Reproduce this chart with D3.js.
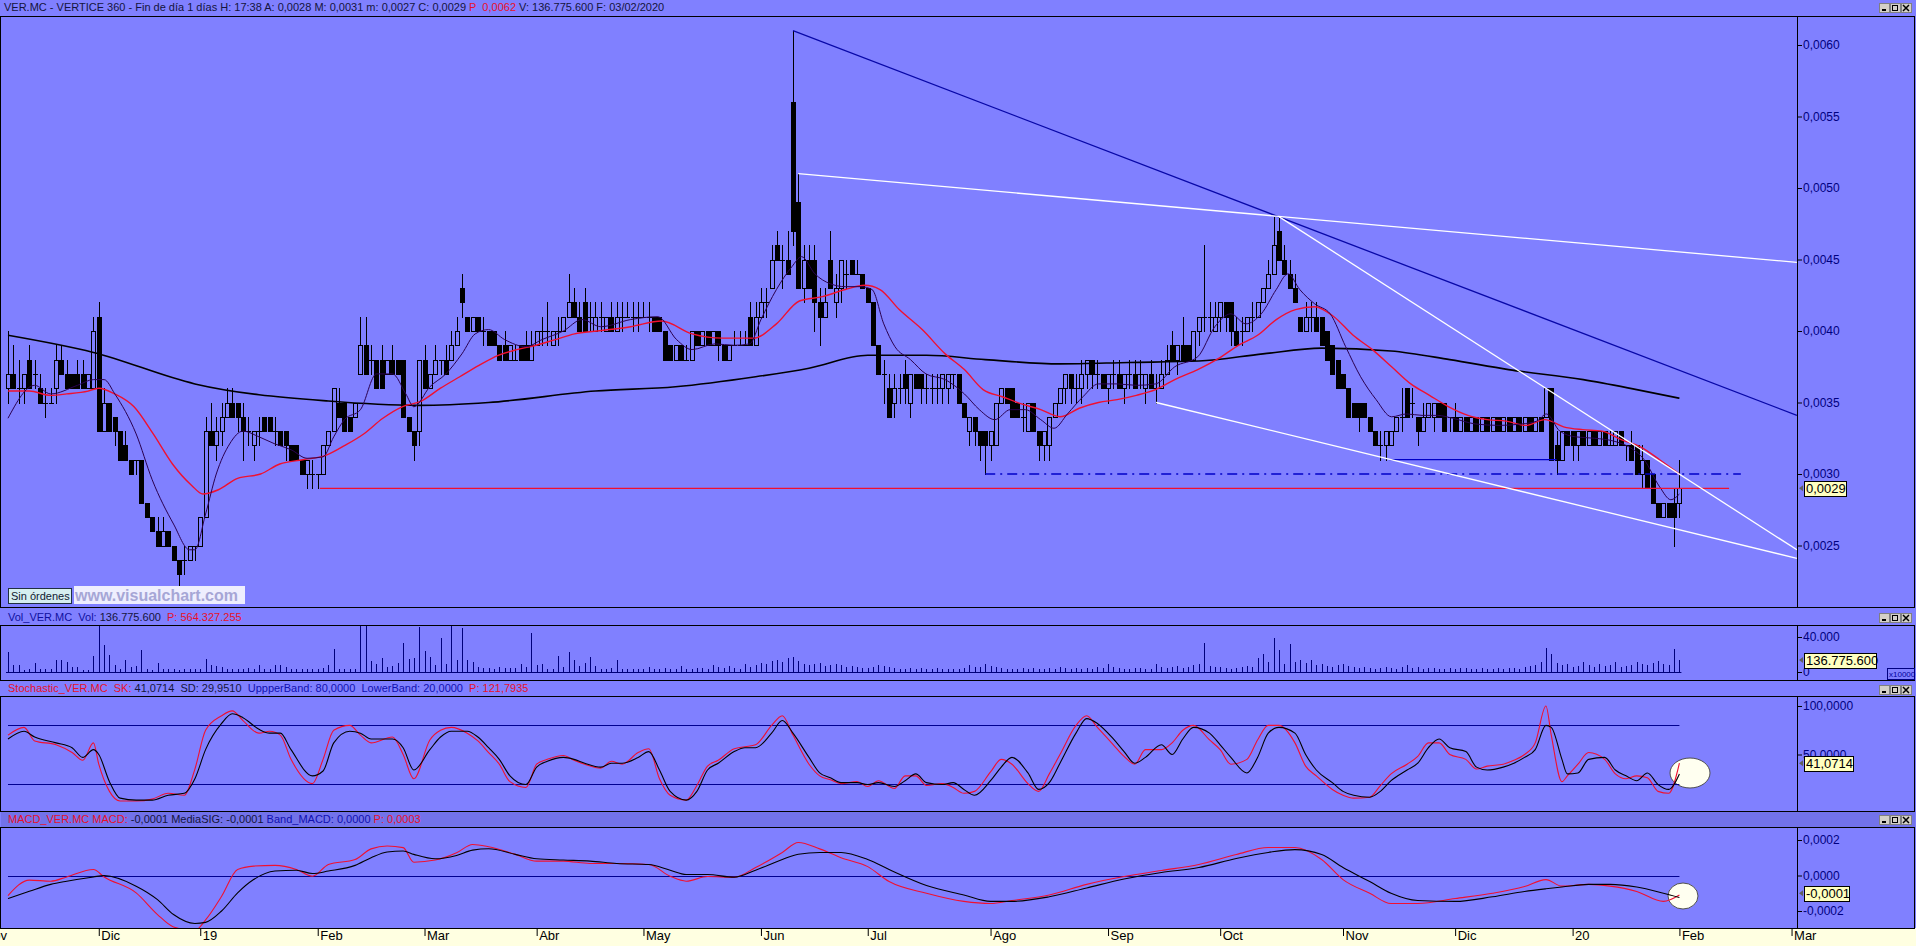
<!DOCTYPE html>
<html><head><meta charset="utf-8">
<script src="https://cdn.jsdelivr.net/npm/d3@7"></script>
<style>
body{margin:0;background:#8080ff;overflow:hidden}
svg{display:block}
text{font-family:"Liberation Sans",Arial,sans-serif;white-space:pre}
</style></head><body>
<svg id="c" width="1916" height="946"></svg>
<script>
// ---------------- DATA (prices in units of 0.0001) ----------------
// candles per month: [open, high, low, close]
const nov18=[[36,40,35,37],[37,39,36,36],[36,38,35,36],[36,37,35,37],[38,39,36,36],[37,38,36,37],[36,37,35,35],[35,36,34,35],[35,36,35,35],[36,39,35,38],[38,39,37,37],[37,38,36,36],[37,37,36,36],[37,38,36,36],[37,38,36,36],[36,37,36,37],[36,41,36,40]];
const dec18=[[41,42,33,33],[33,36,33,35],[35,35,33,33],[34,34,32,33],[33,33,31,31],[32,33,31,31],[31,31,30,30],[31,31,30,31],[31,31,28,28],[28,28,27,27],[27,27,26,26],[26,27,25,25],[25,27,25,26],[26,26,25,25],[25,25,24,24],[24,24,22,23],[24,25,23,24],[24,25,24,25],[25,25,24,25]];
const jan19=[[25,27,25,27],[27,34,27,33],[33,35,32,32],[32,34,31,33],[33,35,32,34],[34,36,34,35],[35,36,34,34],[35,35,33,34],[34,35,31,33],[33,34,32,33],[32,33,31,33],[33,34,32,33],[34,34,33,33],[34,34,33,33],[33,34,32,33],[33,33,32,32],[33,33,31,32],[32,32,31,31],[32,32,31,31],[31,31,30,30],[30,31,29,31],[30,31,29,30]];
const feb19=[[30,30,29,30],[30,32,30,32],[32,33,32,33],[33,36,33,36],[35,36,34,34],[35,35,33,33],[34,34,33,33],[34,35,34,35],[37,41,37,39],[39,41,37,37],[38,39,37,38],[38,38,36,36],[38,39,36,36],[37,38,37,38],[38,39,37,37],[38,38,37,37],[38,38,34,34],[34,34,33,33],[33,33,31,32],[33,38,32,38]];
const mar19=[[38,39,36,36],[36,37,36,37],[37,39,37,38],[38,38,37,38],[38,39,37,37],[38,40,38,39],[39,41,39,40],[43,44,41,42],[41,41,40,40],[40,41,40,41],[41,41,40,40],[40,41,39,40],[40,40,39,39],[40,40,39,39],[39,39,38,38],[39,40,38,38],[38,39,38,39],[38,39,38,38],[39,39,38,38],[39,40,38,38],[38,40,38,39]];
const apr19=[[39,40,39,40],[40,41,39,40],[40,42,39,40],[39,40,39,40],[40,41,39,40],[40,41,40,41],[41,44,41,42],[42,43,41,41],[41,42,40,40],[42,43,40,40],[41,42,40,41],[40,42,40,41],[41,42,40,41],[40,41,40,41],[41,42,40,40],[40,42,40,41],[41,42,40,41],[41,42,41,41],[41,42,40,41],[41,42,40,41]];
const may19=[[41,42,41,41],[41,42,40,41],[41,41,40,40],[41,41,40,40],[40,40,38,38],[39,39,38,38],[38,39,38,39],[39,39,38,38],[38,39,38,38],[38,40,38,40],[40,40,39,39],[39,40,39,40],[40,40,39,39],[39,40,39,40],[40,40,38,39],[39,39,38,38],[38,39,38,39],[39,40,39,39],[39,40,39,39],[39,40,39,39],[41,42,39,39],[39,42,39,41]];
const jun19=[[41,43,41,42],[42,43,41,42],[43,46,43,45],[46,47,45,45],[45,46,43,45],[45,47,44,44],[56,61,46,47],[49,51,43,43],[43,46,42,45],[45,46,43,43],[45,46,40,42],[42,43,39,41],[41,43,41,42],[45,47,43,43],[42,44,41,43],[43,45,42,45],[44,45,43,44],[45,45,44,44],[44,45,44,44],[44,44,43,43]];
const jul19=[[43,43,42,42],[42,42,39,39],[39,39,37,37],[37,38,35,37],[36,37,34,34],[35,37,34,36],[36,37,35,36],[37,38,35,36],[35,37,34,37],[37,37,36,36],[37,37,35,36],[36,37,35,36],[36,37,35,36],[36,37,35,36],[36,37,35,37],[36,37,35,37],[37,37,36,37],[37,37,35,35],[35,35,34,34],[33,34,32,34],[34,34,32,33],[33,33,31,32],[33,33,30,32]];
const aug19=[[32,33,31,33],[32,35,32,35],[35,36,35,36],[36,36,35,35],[36,36,34,34],[35,35,34,34],[34,35,33,34],[33,35,33,35],[35,35,33,33],[33,33,31,32],[32,33,31,33],[32,34,31,34],[34,35,34,35],[35,36,35,36],[36,37,35,37],[37,37,35,36],[36,37,35,36],[36,38,35,37],[37,38,36,38],[38,38,36,37],[37,38,36,37],[37,37,36,36]];
const sep19=[[36,37,35,37],[37,38,36,37],[37,38,36,36],[36,37,35,37],[37,38,36,37],[37,38,36,36],[37,38,36,37],[36,37,35,37],[37,38,36,36],[36,37,35,36],[36,38,36,37],[37,39,37,38],[39,40,38,38],[38,39,37,39],[39,41,38,38],[39,39,38,38],[38,40,38,40],[40,41,39,41],[41,46,40,41],[41,42,40,41],[40,42,40,41]];
const oct19=[[41,42,40,42],[42,42,40,41],[42,42,39,40],[40,41,39,39],[40,41,39,40],[40,41,40,41],[41,42,40,41],[41,42,41,42],[42,43,42,43],[43,45,43,44],[44,48,44,46],[47,48,45,45],[45,46,44,44],[44,45,43,43],[43,44,42,42],[41,41,40,40],[40,42,40,41],[41,42,40,41],[41,42,40,40],[41,41,39,39],[40,40,38,38],[39,39,37,37],[38,38,36,36]];
const nov19=[[37,37,36,36],[36,36,34,34],[35,35,34,34],[35,35,33,34],[35,35,34,34],[34,34,33,33],[33,33,32,32],[32,33,31,32],[32,33,31,33],[32,33,32,33],[33,34,33,34],[34,36,33,34],[36,36,34,34],[35,36,34,35],[34,34,32,33],[33,35,33,34],[34,35,34,35],[34,35,33,35],[35,35,34,34],[35,35,33,33],[34,34,33,34]];
const dec19=[[34,35,33,33],[33,34,33,34],[34,34,33,33],[33,34,33,34],[34,34,33,33],[33,34,33,34],[34,34,33,33],[33,34,33,34],[34,34,33,33],[33,34,33,34],[34,34,33,33],[33,34,33,34],[34,34,33,33],[33,34,33,34],[34,34,33,33],[33,34,33,34],[34,34,33,33],[34,36,34,36],[36,36,31,31],[32,33,30,31],[31,33,31,33],[33,33,32,32]];
const jan20=[[33,33,31,32],[32,33,31,33],[33,33,32,32],[32,33,32,33],[33,33,32,32],[32,33,32,33],[33,33,32,32],[32,33,32,32],[32,33,32,33],[33,33,32,32],[32,32,31,32],[32,33,31,31],[32,32,30,30],[30,32,29,31],[31,31,29,29],[30,30,28,28],[28,28,27,27],[27,28,27,28],[28,28,27,27],[28,29,25,27]];
const feb20=[[28,31,27,29]];

// volume (millions of shares), one per candle
const volumeM=[229,80,80,25,40,103,35,35,35,137,137,114,57,57,25,25,183,
550,309,194,80,35,137,57,65,251,35,25,103,30,35,30,25,40,30,35,
30,149,80,70,57,30,40,35,30,45,35,80,40,30,80,80,57,30,35,30,40,35,
30,45,80,263,30,35,40,30,550,537,126,91,160,57,65,103,331,149,160,514,
240,171,80,389,91,550,137,503,137,114,57,50,45,40,57,45,50,45,91,57,446,
80,91,35,40,183,57,229,137,65,103,171,65,35,40,45,137,40,35,30,35,
40,60,35,40,45,30,40,70,35,40,45,50,35,80,60,45,70,50,40,91,57,80,
103,91,126,137,114,160,171,126,91,80,91,103,70,80,91,80,60,70,57,50,
45,57,80,70,60,45,40,35,45,40,50,35,40,45,35,40,30,35,45,80,60,57,91,
70,57,45,40,35,40,45,35,50,40,35,45,40,57,45,40,50,35,45,40,57,45,
91,57,45,35,40,50,45,35,40,91,57,45,60,70,50,57,80,91,331,70,57,
57,45,40,50,60,70,57,160,206,114,389,251,91,320,114,137,103,137,80,91,70,57,80,
91,70,57,45,57,45,40,50,57,45,40,57,80,45,57,40,50,45,40,35,45,
40,45,50,35,40,45,40,35,45,40,50,45,40,57,70,80,114,274,206,103,80,91,
57,70,114,80,57,91,70,80,114,57,70,80,114,91,80,103,126,91,80,263,137];

// moving averages: [candle index, price]
const shortMA=[[0,33.9],[5,36.2],[8,35.6],[13,36.2],[16,36.6],[18,36.6],[20,35.6],[24,32.8],[27,29.6],[31,26.5],[34,24.7],[35,24.7],[37,27.2],[39,30],[41.5,32.1],[44,33],[47,32.6],[50,32.1],[53,31.7],[56,31.1],[59,31.2],[61,32.6],[63,33.8],[66,34.5],[69,37],[72,37],[74.5,35.6],[76,34.7],[79,36.1],[82,37],[85,38.4],[87.5,39.8],[90,40.1],[93,39.4],[97,38.9],[100,39.4],[104,40],[107.5,40.8],[111,40.3],[116.6,40.8],[121.7,41],[125.2,39.4],[128.1,38.7],[132.4,39.1],[136,39],[138.9,39.1],[141,40.8],[143.9,42.9],[146.8,44.5],[148.6,45.2],[151.1,44],[154,43.3],[156.8,43.1],[159.7,43.1],[161.8,42.9],[164,40.5],[166.1,38.9],[169,38],[171.9,37],[175.5,36.6],[179.1,35.6],[181.9,34.5],[184.8,33.8],[187.7,34.5],[190.5,34.5],[193.4,33.8],[195.9,33.2],[198.4,34.2],[201.3,35.4],[204.2,36.3],[207.7,36.3],[211.3,36.2],[214.9,36.3],[218.5,37.5],[222.8,38.2],[226,40.3],[229,41.2],[231.8,40.5],[234.7,41.2],[237.5,42.9],[239.7,44],[241.9,42.9],[244.7,41.9],[247.6,41.2],[250.5,38.9],[253.3,36.8],[256.2,35.2],[259.1,34],[261.9,34.2],[264.8,34.1],[267.7,34.1],[270.5,33.9],[274.8,33.5],[279.2,33.4],[283.5,33.5],[286.3,33.7],[288.1,34.2],[290.6,33],[293.5,32.6],[297.1,32.5],[300.7,32.3],[303.5,31.9],[306.4,31],[309.3,29.1],[311.4,28.2],[313,28.6]];
const redMA=[[0,35.8],[4,35.8],[8,35.5],[11,35.6],[15,35.8],[17,36.0],[20,35.6],[23.6,34.7],[27.2,32.8],[30.8,30.7],[34.4,29.2],[36.5,28.6],[39.4,28.9],[43,29.7],[47.3,30.0],[50.9,30.7],[55.2,31.0],[59.5,31.3],[63.1,32.0],[66.6,32.8],[70.2,33.9],[73.8,34.7],[77.4,35.1],[81,36.0],[84.6,36.8],[88.2,37.6],[91.8,38.3],[95.3,38.7],[98.9,39.0],[102.5,39.4],[106.1,39.8],[110.4,40.0],[116.6,40.3],[122.4,40.7],[128.1,39.8],[133.9,39.5],[139.6,39.5],[143.9,40.5],[148.2,42.1],[152.5,42.4],[156.8,42.9],[160.4,43.2],[163.3,42.9],[166.9,41.5],[171.2,40.1],[175.5,38.4],[179.1,37.3],[182.6,35.9],[186.2,35.4],[189.8,34.9],[193.4,34.5],[197,34.0],[200.6,34.6],[204.2,35.0],[207.7,35.2],[211.3,35.5],[214.9,35.9],[218.5,36.6],[222.8,37.3],[226.8,38.1],[230.4,39.0],[234,39.7],[237.5,40.8],[241.1,41.5],[244.7,41.7],[248.3,41.0],[251.9,39.7],[255.5,38.7],[259.1,37.5],[262.7,36.3],[266.2,35.5],[269.8,34.7],[273.4,34.1],[277,33.8],[280.6,33.7],[284.2,33.4],[287.8,33.8],[291.3,33.3],[294.9,33.1],[298.5,33.0],[302.1,32.4],[305.7,31.9],[309.3,31.0],[313,30.0]];
const longMA=[[0,39.7],[16,38.5],[35,36.3],[60,35.1],[77,34.8],[90,35.0],[110,35.8],[125,36.1],[140,36.8],[150,37.4],[161,38.3],[172,38.3],[183,38.0],[197,37.7],[210,37.8],[223,37.9],[235,38.4],[246,38.8],[259,38.6],[270,38.0],[281,37.3],[295,36.6],[305,35.9],[313,35.3]];

// drawn trend lines: [i1, price1, i2, price2]
const blueTrend=[[147,61,335,34.1]];
const whiteTrends=[[148,51,335,44.8],[238,48,335,24.7],[215,35,335,24.1]];
const redLevel=[58.4,29,322.3];
const dashLevel=[183,30,324.5];
const blueLevel=[258.7,31,290];

// stochastic
const stochIdx=[0,3,5,9,12,14,16,17,19,21,24,27,30,33,35,37,40,42,44,47,49,51,53,57,59,61,64,66,68,72,74,76,79,81,83,86,88,90,92,94,97,99,101,104,106,108,111,113,115,118,120,122,124,127,129,131,133,136,138,140,143,145,147,150,152,154,156,159,161,163,166,168,170,172,175,177,179,181,184,186,188,191,193,195,197,200,202,204,207,209,211,213,216,218,220,222,225,227,229,232,234,236,238,241,243,245,248,250,252,255,257,259,262,264,266,268,270,273,275,277,280,282,284,286,288,289,291,292,294,296,299,301,303,305,307,309,311,313];
const stochSD=[66,74,68,62,57,47,55,50,22,5,3,3,8,10,25,55,82,92,88,76,72,72,55,28,33,62,74,72,66,66,57,34,55,68,74,74,68,57,45,28,19,37,43,47,45,41,37,41,41,47,53,34,12,3,12,34,41,53,57,57,72,85,72,47,31,26,21,21,19,21,17,23,30,21,19,21,14,8,23,37,47,31,14,21,41,72,87,82,66,53,41,47,60,50,66,78,72,60,47,31,47,72,78,72,50,34,21,12,8,6,12,23,34,41,57,66,57,53,37,34,37,41,47,55,80,78,45,30,31,45,47,34,28,23,31,19,14,30];
const stochSK=[70,78,64,60,52,44,62,40,12,2,2,4,10,8,35,75,90,95,85,72,74,70,45,20,45,75,80,70,62,68,50,25,65,75,78,72,64,52,40,22,16,40,45,49,44,40,36,43,40,52,56,25,8,3,18,38,44,56,58,60,80,90,70,40,28,24,20,22,17,23,15,28,28,18,20,16,10,12,32,45,40,20,12,30,50,80,90,78,60,48,40,55,55,62,75,80,65,55,40,45,65,80,80,62,38,28,14,8,5,6,18,30,40,48,62,62,50,45,35,38,40,44,50,62,100,70,22,28,40,52,45,30,25,28,26,12,10,41];

// MACD (units of 0.0001)
const macdIdx=[0,4,8,11,16,18,24,28,31,35,37,40,43,46,50,54,57,60,65,68,71,74,76,80,84,87,90,95,99,104,109,114,120,124,127,131,136,140,145,148,152,156,161,165,172,179,184,188,195,202,209,216,223,230,236,241,246,250,255,259,264,271,278,284,288,291,296,300,305,310,313];
const macdLine=[-1.13,-0.26,-0.32,-0.08,0.34,-0.08,-0.98,-2.2,-2.9,-3.1,-2.5,-1.17,0.34,0.53,0.57,0.34,-0.04,0.62,0.9,1.5,1.66,1.57,0.75,0.87,1.28,1.75,1.62,1.19,0.81,0.81,0.68,0.68,0.62,-0.04,-0.32,-0.06,-0.1,0.45,1.3,1.86,1.5,1.0,0.5,-0.34,-1.0,-1.46,-1.58,-1.41,-1.1,-0.5,-0.06,0.28,0.62,1.18,1.58,1.58,0.9,-0.23,-1.0,-1.58,-1.58,-1.3,-1.0,-0.62,-0.23,-0.6,-0.5,-0.6,-0.9,-1.46,-1.1];
const macdSig=[-1.3,-0.89,-0.5,-0.32,-0.08,0,-0.6,-1.36,-2.2,-2.7,-2.64,-2.0,-0.98,-0.23,0.25,0.3,0.11,0.25,0.57,1.0,1.32,1.38,1.19,0.94,1.13,1.43,1.51,1.19,0.94,0.87,0.81,0.68,0.62,0.3,0.06,0.06,-0.1,0.3,0.9,1.2,1.3,1.3,0.9,0.34,-0.56,-1.1,-1.46,-1.46,-1.2,-0.7,-0.2,0.17,0.45,0.96,1.3,1.46,1.18,0.45,-0.34,-1.0,-1.41,-1.46,-1.2,-0.9,-0.75,-0.65,-0.5,-0.5,-0.65,-1.0,-1.24];

// axis ticks / labels
const monthIdx=[-5,17,36,58,78,99,119,141,161,184,206,227,250,271,293,313,334];
const monthLbl=["Nov","Dic","19","Feb","Mar","Abr","May","Jun","Jul","Ago","Sep","Oct","Nov","Dic","20","Feb","Mar"];
const priceTicks=[0.0025,0.0030,0.0035,0.0040,0.0045,0.0050,0.0055,0.0060];
const volTicks=[0,400000000];
const stochTicks=[50,100];
const stochBands=[80,20];
const macdTicks=[-0.0002,0,0.0002];

// ---------------- DRAWING ----------------
const BG="#8080ff", NAVY="#000080", DARK="#14143c", RED="#e8102a", BLUE="#0000c8";
const candlesRaw=[].concat(nov18,dec18,jan19,feb19,mar19,apr19,may19,jun19,jul19,aug19,sep19,oct19,nov19,dec19,jan20,feb20);
const candles=candlesRaw.map((d,i)=>({i,o:d[0],h:d[1],l:d[2],c:d[3],v:(volumeM[i]||0)*1e6}));
const N=candles.length;

const loc=d3.formatLocale({decimal:",",thousands:".",grouping:[3],currency:["","€"],minus:"-"});
const f4=loc.format(".4f"), fTh=loc.format(",");

const svg=d3.select("#c");
svg.append("rect").attr("width",1916).attr("height",946).attr("fill",BG);

const x=d3.scaleLinear().domain([0,335]).range([8,8+335*5.34]);
const yP=d3.scaleLinear().domain([0.0025,0.0060]).range([545.5,45]);
const pY=t=>yP(t/10000);
const yV=d3.scaleLinear().domain([0,400000000]).range([672,637]);
const yS=d3.scaleLinear().domain([0,100]).range([803,706]);
const yM=d3.scaleLinear().domain([-0.0002,0.0002]).range([911,840]);

const defs=svg.append("defs");
function clip(id,y0,y1){defs.append("clipPath").attr("id",id).append("rect").attr("x",0).attr("y",y0).attr("width",1797).attr("height",y1-y0);}
clip("cm",16,607);clip("cv",625,680);clip("cs",696,811);clip("cd",827,928);

// MACD title band & x-axis band
svg.append("rect").attr("x",1).attr("y",812).attr("width",1914).attr("height",15).attr("fill","#7272ea");
svg.append("rect").attr("x",0).attr("y",928).attr("width",1916).attr("height",18).attr("fill","#ffffe1");

// ---- main panel
const main=svg.append("g").attr("clip-path","url(#cm)");
const gC=main.append("g").attr("shape-rendering","crispEdges");
gC.selectAll("line.w").data(candles).join("line").attr("class","w")
 .attr("x1",d=>Math.round(x(d.i))+0.5).attr("x2",d=>Math.round(x(d.i))+0.5)
 .attr("y1",d=>Math.round(pY(d.h))).attr("y2",d=>Math.round(pY(d.l))+1).attr("stroke","#000");
gC.selectAll("rect.b").data(candles.filter(d=>d.o!==d.c)).join("rect").attr("class","b")
 .attr("x",d=>Math.round(x(d.i))-1.5).attr("width",4)
 .attr("y",d=>Math.round(pY(Math.max(d.o,d.c)))+0.5)
 .attr("height",d=>Math.round(pY(Math.min(d.o,d.c)))-Math.round(pY(Math.max(d.o,d.c))))
 .attr("fill",d=>d.c<d.o?"#000":BG).attr("stroke","#000");
gC.selectAll("line.dj").data(candles.filter(d=>d.o===d.c)).join("line").attr("class","dj")
 .attr("x1",d=>Math.round(x(d.i))-2).attr("x2",d=>Math.round(x(d.i))+3)
 .attr("y1",d=>Math.round(pY(d.o))+0.5).attr("y2",d=>Math.round(pY(d.o))+0.5).attr("stroke","#000");

const ln=d3.line().x(d=>x(d[0])).y(d=>pY(d[1])).curve(d3.curveMonotoneX);
main.append("path").attr("d",ln(longMA)).attr("fill","none").attr("stroke","#000").attr("stroke-width",1.6);
main.append("path").attr("d",ln(redMA)).attr("fill","none").attr("stroke","#f01030").attr("stroke-width",1.4);
main.append("path").attr("d",ln(shortMA)).attr("fill","none").attr("stroke","#2a0050").attr("stroke-width",1);

// levels & trendlines
function seg(a,col,w,dash){const l=main.append("line").attr("x1",x(a[0])).attr("y1",pY(a[1])).attr("x2",x(a[2])).attr("y2",pY(a[3])).attr("stroke",col).attr("stroke-width",w);if(dash)l.attr("stroke-dasharray",dash);return l;}
seg([redLevel[0],redLevel[1],redLevel[2],redLevel[1]],"#f01030",1.3);
seg([dashLevel[0],dashLevel[1],dashLevel[2],dashLevel[1]],BLUE,1.3,"10,5,2,5");
seg([blueLevel[0],blueLevel[1],blueLevel[2],blueLevel[1]],BLUE,1.3);
blueTrend.forEach(a=>seg(a,"#0808a8",1.3));
whiteTrends.forEach(a=>seg(a,"#ffffff",1.3));

// Sin órdenes + watermark
svg.append("rect").attr("x",8.5).attr("y",588.5).attr("width",63).attr("height",15).attr("fill","#d6eef0").attr("stroke","#203040");
svg.append("text").attr("x",11).attr("y",600).attr("font-size",11).attr("fill","#102030").text("Sin órdenes");
svg.append("rect").attr("x",74).attr("y",586).attr("width",171).attr("height",18).attr("fill","#eeeefe");
svg.append("text").attr("x",75).attr("y",601).attr("font-size",16).attr("font-weight","bold").attr("fill","#a6a6d6").text("www.visualchart.com");

// ---- volume
const vol=svg.append("g").attr("clip-path","url(#cv)");
vol.selectAll("line").data(candles).join("line").attr("shape-rendering","crispEdges")
 .attr("x1",d=>Math.round(x(d.i))+0.5).attr("x2",d=>Math.round(x(d.i))+0.5)
 .attr("y1",yV(0)).attr("y2",d=>yV(d.v)).attr("stroke","#00007a").attr("stroke-width",1.2);
svg.append("line").attr("x1",x(0)-2).attr("x2",x(N-1)+2).attr("y1",yV(0)+0.5).attr("y2",yV(0)+0.5).attr("stroke","#00007a");

// ---- stochastic
const st=svg.append("g").attr("clip-path","url(#cs)");
st.append("ellipse").attr("cx",1690).attr("cy",773).attr("rx",20).attr("ry",15).attr("fill","#fffff0").attr("stroke","#505050");
stochBands.forEach(b=>st.append("line").attr("x1",x(0)).attr("x2",x(N-1)).attr("y1",Math.round(yS(b))+0.5).attr("y2",Math.round(yS(b))+0.5).attr("stroke","#000090"));
const lnS=d3.line().x(d=>x(d[0])).y(d=>yS(d[1])).curve(d3.curveMonotoneX);
st.append("path").attr("d",lnS(stochIdx.map((d,k)=>[d,stochSK[k]]))).attr("fill","none").attr("stroke","#f01030").attr("stroke-width",1.1);
st.append("path").attr("d",lnS(stochIdx.map((d,k)=>[d,stochSD[k]]))).attr("fill","none").attr("stroke","#000").attr("stroke-width",1.1);

// ---- MACD
const md=svg.append("g").attr("clip-path","url(#cd)");
md.append("ellipse").attr("cx",1683).attr("cy",896).attr("rx",15).attr("ry",13).attr("fill","#fffff0").attr("stroke","#505050");
md.append("line").attr("x1",x(0)).attr("x2",x(N-1)).attr("y1",Math.round(yM(0))+0.5).attr("y2",Math.round(yM(0))+0.5).attr("stroke","#000090").attr("stroke-width",1.2);
const lnM=d3.line().x(d=>x(d[0])).y(d=>yM(d[1]/10000)).curve(d3.curveMonotoneX);
md.append("path").attr("d",lnM(macdIdx.map((d,k)=>[d,macdLine[k]]))).attr("fill","none").attr("stroke","#f01030").attr("stroke-width",1.1);
md.append("path").attr("d",lnM(macdIdx.map((d,k)=>[d,macdSig[k]]))).attr("fill","none").attr("stroke","#000").attr("stroke-width",1.1);

// ---- frames
const fr=svg.append("g").attr("fill","none").attr("stroke","#000").attr("shape-rendering","crispEdges");
[[16,607],[625,680],[696,811],[827,928]].forEach(([a,b])=>{
  fr.append("rect").attr("x",0.5).attr("y",a+0.5).attr("width",1914).attr("height",b-a);
  fr.append("line").attr("x1",1797.5).attr("x2",1797.5).attr("y1",a).attr("y2",b);
});

// ---- right axes
function styleAx(g){g.select(".domain").remove();g.attr("font-family","'Liberation Sans',Arial,sans-serif").attr("font-size",12).attr("color",NAVY);g.selectAll("line").attr("stroke","#000");g.selectAll("text").attr("fill",NAVY);}
svg.append("g").attr("transform","translate(1797,0)").call(d3.axisRight(yP).tickValues(priceTicks).tickFormat(f4).tickSize(5).tickPadding(1)).call(styleAx);
svg.append("g").attr("transform","translate(1797,0)").call(d3.axisRight(yV).tickValues(volTicks).tickFormat(d=>fTh(d/10000)).tickSize(5).tickPadding(1)).call(styleAx);
svg.append("g").attr("transform","translate(1797,0)").call(d3.axisRight(yS).tickValues(stochTicks).tickFormat(f4).tickSize(5).tickPadding(1)).call(styleAx);
svg.append("g").attr("transform","translate(1797,0)").call(d3.axisRight(yM).tickValues(macdTicks).tickFormat(f4).tickSize(5).tickPadding(1)).call(styleAx);

// value boxes
function valBox(y,txt,w){
  svg.append("path").attr("d",`M1799,${y} l4,-3 v6 z`).attr("fill","#606060");
  svg.append("rect").attr("x",1804.5).attr("y",Math.round(y-7)+0.5).attr("width",w).attr("height",15).attr("fill","#ffffc0").attr("stroke","#000");
  svg.append("text").attr("x",1806).attr("y",y+4.5).attr("font-size",13).attr("fill","#000").text(txt);
}
const last=candles[N-1];
valBox(pY(last.c),f4(last.c/10000),42);
valBox(yV(last.v),"136.775.600",72);
valBox(yS(stochSK[stochSK.length-1]),"41,0714",49);
valBox(yM(-0.0001),"-0,0001",45);
svg.append("rect").attr("x",1887.5).attr("y",668.5).attr("width",27).attr("height",11).attr("fill","none").attr("stroke","#000080");
svg.append("text").attr("x",1889).attr("y",677).attr("font-size",8).attr("fill","#0000a0").text("x10000");

// ---- x axis
const gx=svg.append("g").attr("transform","translate(0,928)")
 .call(d3.axisBottom(x).tickValues(monthIdx).tickFormat((d,k)=>monthLbl[k]).tickSize(8));
gx.select(".domain").remove();
gx.attr("font-family","'Liberation Sans',Arial,sans-serif").attr("font-size",13);
gx.selectAll("line").attr("stroke","#000");
gx.selectAll("text").attr("fill","#000").attr("text-anchor","start").attr("x",2).attr("y",3).attr("dy","0.71em");

// ---- titles
function rich(xp,yp,parts,size){const t=svg.append("text").attr("x",xp).attr("y",yp).attr("font-size",size||11);parts.forEach(p=>t.append("tspan").attr("fill",p[1]).text(p[0]));}
rich(4,11,[["VER.MC - VERTICE 360 - Fin de día 1 días H: 17:38 A: 0,0028 M: 0,0031 m: 0,0027 C: 0,0029 ",DARK],["P  0,0062",RED],[" V: 136.775.600 F: 03/02/2020",DARK]]);
rich(8,621,[["Vol_VER.MC  Vol: ","#1010a0"],["136.775.600  ",DARK],["P: 564.327.255",RED]]);
rich(8,692,[["Stochastic_VER.MC  SK: ",RED],["41,0714  SD: 29,9510  ",DARK],["UppperBand: 80,0000  LowerBand: 20,0000  ","#1010b0"],["P: 121,7935",RED]]);
rich(8,823,[["MACD_VER.MC MACD: ",RED],["-0,0001 MediaSIG: -0,0001 ",DARK],["Band_MACD: 0,0000 ","#1010b0"],["P: 0,0003",RED]]);

// window buttons
function btns(y){
  const g=svg.append("g").attr("shape-rendering","crispEdges");
  [1879,1890,1901].forEach((bx,k)=>{
    g.append("rect").attr("x",bx+0.5).attr("y",y+0.5).attr("width",10).attr("height",9).attr("fill","#d4d0c8").attr("stroke","#808080");
    if(k===0)g.append("rect").attr("x",bx+3).attr("y",y+6).attr("width",4).attr("height",2).attr("fill","#000");
    if(k===1)g.append("rect").attr("x",bx+2.5).attr("y",y+2.5).attr("width",5).attr("height",5).attr("fill","none").attr("stroke","#000");
    if(k===2){g.append("path").attr("d",`M${bx+2},${y+2}L${bx+8},${y+8}M${bx+8},${y+2}L${bx+2},${y+8}`).attr("stroke","#000").attr("stroke-width",1.5).attr("shape-rendering","auto");}
  });
}
btns(3);btns(613);btns(685);btns(815);
</script></body></html>
